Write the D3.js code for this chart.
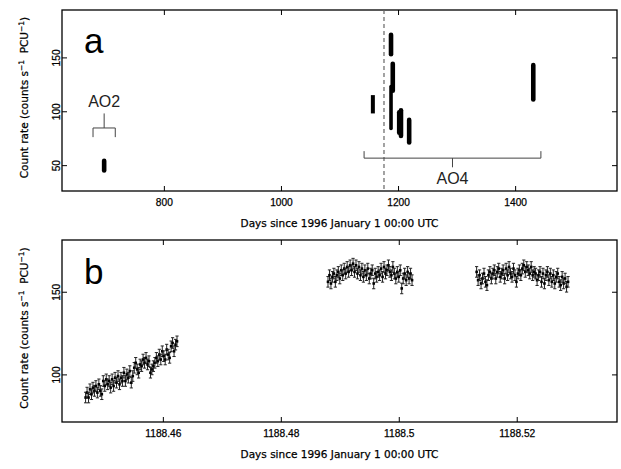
<!DOCTYPE html>
<html>
<head>
<meta charset="utf-8">
<title>Count rate light curves</title>
<script src="https://d3js.org/d3.v7.min.js"></script>
<style>
    body { margin: 0; background: #fff; }
    svg { font-family: "DejaVu Sans", sans-serif; }
    .axis text { font-size: 10.2px; fill: #000; stroke: #000; stroke-width: 0.25; }
    .axis line { stroke: #000; stroke-width: 1; }
    .axis path { display: none; }
    .frame { fill: none; stroke: #000; stroke-width: 1.3; }
    .axis-title { font-size: 10.5px; fill: #000; stroke: #000; stroke-width: 0.25; }
    .panel-label { font-family: "Liberation Sans", sans-serif; font-size: 35px; fill: #000; }
    .cycle-label { font-family: "Liberation Sans", sans-serif; font-size: 16px; fill: #222; }
    .bracket { fill: none; stroke: #444; stroke-width: 1; }
</style>
</head>
<body>
<div id="chart"></div>
<script>
// ---- panel a : each observation, day and lowest / highest count rate
const obsDay  = [698, 1157, 1188, 1188, 1191, 1202, 1205, 1219, 1431];
const obsLow  = [45, 98, 153, 84, 119, 80, 77, 71, 111];
const obsHigh = [54, 115, 171, 123, 144, 99, 101, 92, 143];

// proposal cycles (start, end) and the dashed marker
const ao2Range = [679, 717];
const ao4Range = [1142, 1444];
const markerDay = 1176;

const xTicksA = [800, 1000, 1200, 1400];
const yTicksA = [50, 100, 150];
const xTicksB = [1188.46, 1188.48, 1188.5, 1188.52];
const yTicksB = [100, 150];

// ---- panel b : three stretches of binned count rates
const binDays = 0.00025;
const errB = 3.2;

const seg1Start = 1188.4469;
const seg1Rate = [86, 89, 86, 91, 88, 92, 90, 93, 89, 94,
                  90, 88, 96, 93, 97, 94, 96, 92, 97, 93,
                  98, 95, 99, 94, 98, 96, 101, 96, 100, 98,
                  102, 95, 99, 104, 107, 103, 101, 106, 105, 109,
                  107, 110, 106, 108, 101, 103, 105, 107, 110, 108,
                  112, 109, 114, 111, 109, 115, 112, 110, 117, 119,
                  114, 118, 120];

const seg2Start = 1188.4880;
const seg2Rate = [156, 160, 155, 159, 161, 156, 160, 162, 158, 163,
                  160, 164, 161, 165, 162, 166, 163, 167, 162, 166,
                  161, 165, 160, 164, 159, 163, 160, 164, 158, 161,
                  163, 155, 161, 159, 162, 160, 164, 159, 165, 161,
                  163, 166, 162, 160, 165, 161, 158, 162, 159, 163,
                  152, 158, 161, 157, 162, 158, 161, 157];

const seg3Start = 1188.5132;
const seg3Rate = [162, 157, 160, 155, 158, 161, 156, 154, 160, 162,
                  158, 161, 163, 158, 162, 164, 159, 161, 163, 158,
                  164, 160, 165, 161, 159, 164, 160, 156, 161, 163,
                  160, 164, 166, 162, 165, 163, 161, 165, 160, 162,
                  161, 157, 160, 162, 156, 161, 155, 160, 162, 157,
                  161, 156, 160, 155, 159, 161, 156, 154, 159, 155,
                  158, 153, 156];

const W = 621, H = 469;
const left = 62, right = 617;

const svg = d3.select("#chart").append("svg")
    .attr("width", W)
    .attr("height", H);

// draw the box, inward ticks on all four sides, labels on bottom and left
function drawFrame(x, y, xTicks, yTicks, xFmt) {
    const [y0, y1] = y.range();
    const g = svg.append("g");

    g.append("g").attr("class", "axis")
        .attr("transform", `translate(0,${y0})`)
        .call(d3.axisBottom(x).tickValues(xTicks).tickSize(-5).tickSizeOuter(0).tickPadding(8).tickFormat(xFmt));
    g.append("g").attr("class", "axis")
        .attr("transform", `translate(0,${y1})`)
        .call(d3.axisTop(x).tickValues(xTicks).tickSize(-5).tickSizeOuter(0).tickFormat(""));

    const yl = g.append("g").attr("class", "axis")
        .attr("transform", `translate(${left},0)`)
        .call(d3.axisLeft(y).tickValues(yTicks).tickSize(-5).tickSizeOuter(0));
    yl.selectAll("text")
        .attr("x", null).attr("dy", null)
        .attr("text-anchor", "middle")
        .attr("transform", "translate(-2,0) rotate(-90)");

    g.append("g").attr("class", "axis")
        .attr("transform", `translate(${right},0)`)
        .call(d3.axisRight(y).tickValues(yTicks).tickSize(-5).tickSizeOuter(0).tickFormat(""));

    g.append("rect").attr("class", "frame")
        .attr("x", left).attr("y", y1)
        .attr("width", right - left).attr("height", y0 - y1);

    // axis titles
    g.append("text").attr("class", "axis-title")
        .attr("x", (left + right) / 2).attr("y", y0 + 36)
        .attr("text-anchor", "middle")
        .text("Days since 1996 January 1 00:00 UTC");

    const yt = g.append("text").attr("class", "axis-title")
        .attr("text-anchor", "middle")
        .attr("transform", `translate(27.5,${(y0 + y1) / 2 - 3}) rotate(-90)`);
    yt.append("tspan").text("Count rate (counts s");
    yt.append("tspan").attr("dy", -4).attr("font-size", "7.5px").text("\u22121");
    yt.append("tspan").attr("dy", 4).text("\u00a0 PCU");
    yt.append("tspan").attr("dy", -4).attr("font-size", "7.5px").text("\u22121");
    yt.append("tspan").attr("dy", 4).text(")");
}

// ---------------- panel a
const xA = d3.scaleLinear().domain([626, 1574]).range([left, right]);
const yA = d3.scaleLinear().domain([26, 194]).range([191, 10]);

drawFrame(xA, yA, xTicksA, yTicksA, d3.format("d"));

// dashed marker
svg.append("line")
    .attr("x1", xA(markerDay)).attr("x2", xA(markerDay))
    .attr("y1", yA.range()[1]).attr("y2", yA.range()[0])
    .attr("stroke", "#666").attr("stroke-width", 1.2)
    .attr("stroke-dasharray", "4,3");

// observations, each a dense stack of points shown as a thick bar
const obsA = obsDay.map((d, i) => ({ day: d, lo: obsLow[i], hi: obsHigh[i] }));
svg.append("g").selectAll("line")
    .data(obsA)
    .join("line")
    .attr("x1", d => xA(d.day)).attr("x2", d => xA(d.day))
    .attr("y1", d => yA(d.lo)).attr("y2", d => yA(d.hi))
    .attr("stroke", "#000")
    .attr("stroke-width", (d, i) => i === 1 ? 4 : (i === 3 ? 3.6 : 4.6))
    .attr("stroke-linecap", (d, i) => i === 1 ? "butt" : "round");

// AO2 bracket (label above, stem up)
const b2 = svg.append("g");
b2.append("path").attr("class", "bracket")
    .attr("d", `M${xA(ao2Range[0])},${yA(76)} V${yA(84.5)} H${xA(ao2Range[1])} V${yA(76)}
                M${xA(d3.mean(ao2Range))},${yA(84.5)} V${yA(98)}`);
b2.append("text").attr("class", "cycle-label")
    .attr("x", xA(d3.mean(ao2Range))).attr("y", yA(98) - 6)
    .attr("text-anchor", "middle").text("AO2");

// AO4 bracket (label below, stem down)
const b4 = svg.append("g");
b4.append("path").attr("class", "bracket")
    .attr("d", `M${xA(ao4Range[0])},${yA(63)} V${yA(56.5)} H${xA(ao4Range[1])} V${yA(63)}
                M${xA(d3.mean(ao4Range))},${yA(56.5)} V${yA(48)}`);
b4.append("text").attr("class", "cycle-label")
    .attr("x", xA(d3.mean(ao4Range))).attr("y", yA(48) + 17)
    .attr("text-anchor", "middle").text("AO4");

svg.append("text").attr("class", "panel-label")
    .attr("x", 84).attr("y", 53).text("a");

// ---------------- panel b
const xB = d3.scaleLinear().domain([1188.4429, 1188.537]).range([left, right]);
const yB = d3.scaleLinear().domain([71.2, 181.3]).range([422, 240]);

drawFrame(xB, yB, xTicksB, yTicksB, d3.format(""));

const pointsB = [];
[[seg1Start, seg1Rate], [seg2Start, seg2Rate], [seg3Start, seg3Rate]].forEach(([t0, rates]) => {
    rates.forEach((r, i) => pointsB.push({ t: t0 + i * binDays, r: r }));
});

const gB = svg.append("g");
const pt = gB.selectAll("g").data(pointsB).join("g");
pt.append("line")
    .attr("x1", d => xB(d.t)).attr("x2", d => xB(d.t))
    .attr("y1", d => yB(d.r - errB)).attr("y2", d => yB(d.r + errB))
    .attr("stroke", "#222").attr("stroke-width", 1);
pt.append("line")
    .attr("x1", d => xB(d.t) - 1.6).attr("x2", d => xB(d.t) + 1.6)
    .attr("y1", d => yB(d.r + errB)).attr("y2", d => yB(d.r + errB))
    .attr("stroke", "#222").attr("stroke-width", 1);
pt.append("line")
    .attr("x1", d => xB(d.t) - 1.6).attr("x2", d => xB(d.t) + 1.6)
    .attr("y1", d => yB(d.r - errB)).attr("y2", d => yB(d.r - errB))
    .attr("stroke", "#222").attr("stroke-width", 1);
pt.append("rect")
    .attr("x", d => xB(d.t) - 1.3).attr("y", d => yB(d.r) - 1.3)
    .attr("width", 2.6).attr("height", 2.6)
    .attr("fill", "#000");

svg.append("text").attr("class", "panel-label")
    .attr("x", 84).attr("y", 284).text("b");
</script>
</body>
</html>
